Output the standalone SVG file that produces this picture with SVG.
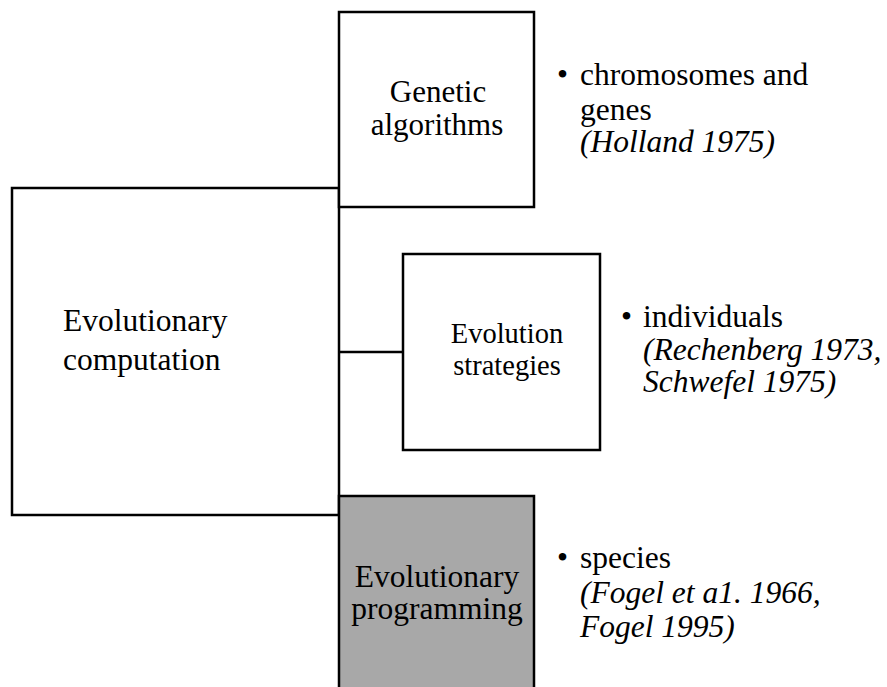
<svg xmlns="http://www.w3.org/2000/svg" width="887" height="687" viewBox="0 0 887 687">
<style>
.box{fill:#fff;stroke:#000;stroke-width:2.5}
.grey{fill:#a8a8a8;stroke:#000;stroke-width:2.5}
.t{font-family:"Liberation Serif","Times New Roman",serif;font-size:31px;fill:#000}
.big{font-size:31.5px}
.sm{font-size:28.5px}
.c{text-anchor:middle}
.i{font-style:italic}
.conn{stroke:#000;stroke-width:2.5;fill:none}
</style>
<rect width="887" height="687" fill="#fff"/>
<g id="ec">
<rect class="box" x="12" y="188" width="327" height="327"/>
<text class="t big" x="63" y="331">Evolutionary</text>
<text class="t big" x="63" y="370">computation</text>
</g>
<g id="ga">
<rect class="box" x="339" y="12" width="195" height="195"/>
<text class="t c" x="438" y="102">Genetic</text>
<text class="t c" x="437" y="135">algorithms</text>
</g>
<g id="es">
<rect class="box" x="403" y="254" width="197" height="196"/>
<text class="t c sm" x="507" y="343">Evolution</text>
<text class="t c sm" x="507" y="375">strategies</text>
</g>
<g id="ep">
<rect class="grey" x="339" y="496" width="195" height="200"/>
<text class="t c big" x="437" y="587">Evolutionary</text>
<text class="t c big" x="437" y="619">programming</text>
</g>
<g id="connectors">
<line class="conn" x1="339" y1="352" x2="403" y2="352"/>
</g>
<g id="ga-notes">
<text class="t big" x="557" y="85">•</text>
<text class="t big" x="580" y="85">chromosomes and</text>
<text class="t big" x="580" y="120">genes</text>
<text class="t big i" x="580" y="152">(Holland 1975)</text>
</g>
<g id="es-notes">
<text class="t big" x="621" y="327">•</text>
<text class="t big" x="643" y="327">individuals</text>
<text class="t big i" x="643" y="360">(Rechenberg 1973,</text>
<text class="t big i" x="643" y="392">Schwefel 1975)</text>
</g>
<g id="ep-notes">
<text class="t big" x="557" y="568">•</text>
<text class="t big" x="580" y="568">species</text>
<text class="t big i" x="580" y="603">(Fogel et a1. 1966,</text>
<text class="t big i" x="580" y="637">Fogel 1995)</text>
</g>
</svg>
